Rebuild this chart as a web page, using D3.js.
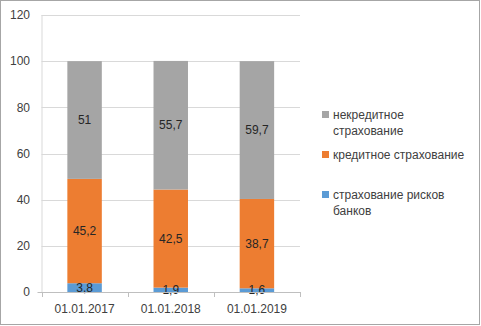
<!DOCTYPE html>
<html>
<head>
<meta charset="utf-8">
<script src="https://cdn.jsdelivr.net/npm/d3@7"></script>
<style>
    body { margin: 0; background: #fff; }
    text { font-family: "Liberation Sans", Arial, sans-serif; fill: #404040; }
</style>
</head>
<body>
<div id="chart"></div>
<script>
// chart data
const dates = ["01.01.2017", "01.01.2018", "01.01.2019"];
const seriesNames = ["страхование рисков банков", "кредитное страхование", "некредитное страхование"];
const bankRisk = [3.8, 1.9, 1.6];
const credit = [45.2, 42.5, 38.7];
const nonCredit = [51, 55.7, 59.7];
const yTicks = [0, 20, 40, 60, 80, 100, 120];
const colors = ["#5B9BD5", "#ED7D31", "#A5A5A5"];

// legend lines, top to bottom
const legendLines = [
    ["некредитное", "страхование"],
    ["кредитное страхование"],
    ["страхование рисков", "банков"]
];

const W = 481, H = 326;
const margin = {top: 15, right: 181, bottom: 34, left: 41.5};

const svg = d3.select("#chart").append("svg")
    .attr("width", W)
    .attr("height", H);

svg.append("rect")
    .attr("x", 0.5).attr("y", 0.5)
    .attr("width", W - 2).attr("height", H - 2)
    .attr("fill", "#fff")
    .attr("stroke", "#A6A6A6");

const rows = dates.map((d, i) => ({date: d, values: [bankRisk[i], credit[i], nonCredit[i]]}));
const stack = d3.stack().keys([0, 1, 2]).value((d, k) => d.values[k]);
const layers = stack(rows);

const x = d3.scaleBand()
    .domain(dates)
    .range([margin.left, W - margin.right])
    .paddingInner(0.6)
    .paddingOuter(0.3);

const y = d3.scaleLinear()
    .domain([0, 120])
    .range([H - margin.bottom, margin.top]);

// gridlines
svg.append("g")
    .selectAll("line")
    .data(yTicks.slice(1))
    .enter()
    .append("line")
    .attr("x1", margin.left)
    .attr("x2", W - margin.right)
    .attr("y1", d => Math.round(y(d)) + 0.5)
    .attr("y2", d => Math.round(y(d)) + 0.5)
    .attr("stroke", "#D9D9D9");

// y axis labels
svg.append("g")
    .selectAll("text")
    .data(yTicks)
    .enter()
    .append("text")
    .attr("x", 30)
    .attr("y", d => y(d))
    .attr("dy", "0.35em")
    .attr("text-anchor", "end")
    .style("font-size", "12px")
    .text(d => d);

// y axis line
svg.append("line")
    .attr("x1", margin.left + 0.5).attr("x2", margin.left + 0.5)
    .attr("y1", y(120)).attr("y2", y(0))
    .attr("stroke", "#D9D9D9");

// bars
const layerG = svg.selectAll(".layer")
    .data(layers)
    .enter()
    .append("g")
    .attr("class", "layer")
    .attr("fill", (d, i) => colors[i]);

layerG.selectAll("rect")
    .data(d => d)
    .enter()
    .append("rect")
    .attr("x", d => x(d.data.date))
    .attr("width", x.bandwidth())
    .attr("y", d => y(d[1]))
    .attr("height", d => y(d[0]) - y(d[1]));

// data labels, drawn above all bars
const labels = [];
layers.forEach((layer, i) => layer.forEach(p => labels.push({p: p, v: p.data.values[i]})));

svg.append("g")
    .selectAll("text")
    .data(labels)
    .enter()
    .append("text")
    .attr("x", d => x(d.p.data.date) + x.bandwidth() / 2)
    .attr("y", d => y((d.p[0] + d.p[1]) / 2))
    .attr("dy", "0.35em")
    .attr("text-anchor", "middle")
    .style("font-size", "12px")
    .style("fill", "#262626")
    .text(d => String(d.v).replace(".", ","));

// x axis
const x0 = margin.left, x1 = W - margin.right;
svg.append("line")
    .attr("x1", x0 - 4).attr("x2", x1)
    .attr("y1", Math.round(y(0)) + 0.5).attr("y2", Math.round(y(0)) + 0.5)
    .attr("stroke", "#BFBFBF");

svg.append("g")
    .selectAll("line")
    .data(d3.range(dates.length + 1))
    .enter()
    .append("line")
    .attr("x1", i => Math.round(x0 + i * (x1 - x0) / dates.length) + 0.5)
    .attr("x2", i => Math.round(x0 + i * (x1 - x0) / dates.length) + 0.5)
    .attr("y1", Math.round(y(0)))
    .attr("y2", Math.round(y(0)) + 5)
    .attr("stroke", "#BFBFBF");

svg.append("g")
    .selectAll("text")
    .data(dates)
    .enter()
    .append("text")
    .attr("x", d => x(d) + x.bandwidth() / 2)
    .attr("y", 313)
    .attr("text-anchor", "middle")
    .style("font-size", "12px")
    .text(d => d);

// legend
const legendY = [115, 155, 195];
const legendColor = [colors[2], colors[1], colors[0]];
const legend = svg.append("g");
legendLines.forEach((lines, i) => {
    legend.append("rect")
        .attr("x", 322)
        .attr("y", legendY[i] - 4)
        .attr("width", 7)
        .attr("height", 7)
        .attr("fill", legendColor[i]);
    lines.forEach((t, j) => {
        legend.append("text")
            .attr("x", 333)
            .attr("y", legendY[i] + j * 16)
            .attr("dy", "0.35em")
            .style("font-size", "12px")
            .text(t);
    });
});
</script>
</body>
</html>
